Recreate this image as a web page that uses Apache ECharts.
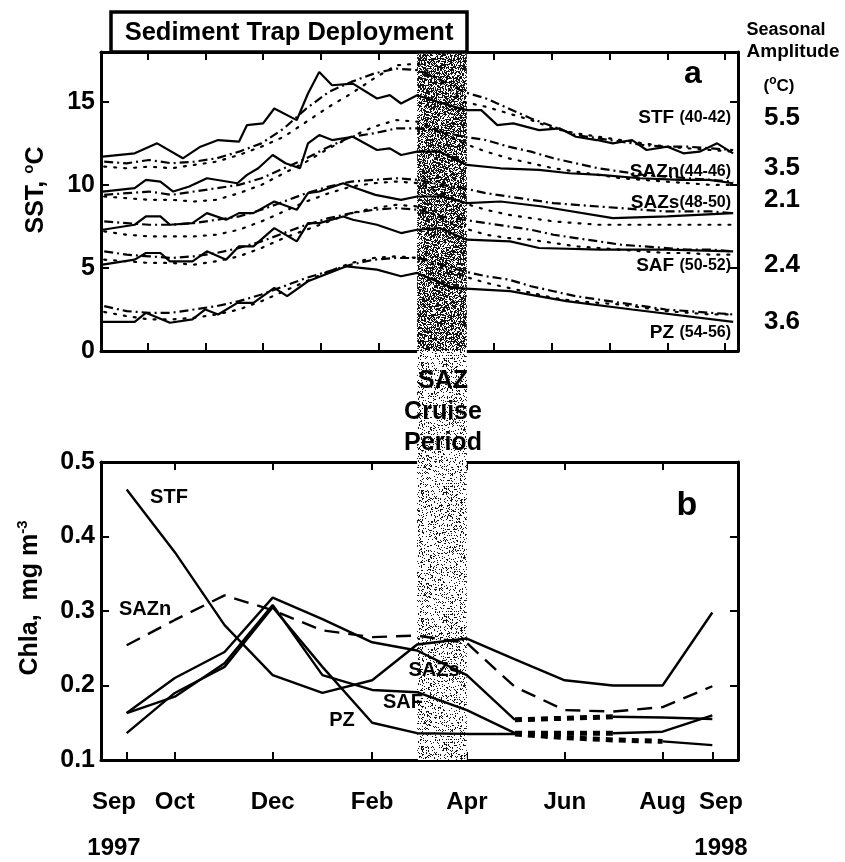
<!DOCTYPE html>
<html><head><meta charset="utf-8">
<script src="https://cdn.jsdelivr.net/npm/echarts@6/dist/echarts.min.js"></script>
<style>html,body{margin:0;padding:0;background:#fff}#c{width:845px;height:862px}</style>
</head><body><div id="c"></div>
<script>
// ---------- Panel a: SST (x = days since 1 Sep 1997) ----------
// solid lines (1997/98 weekly SST), read at their vertices
const stfSolidDays  = [-15,5,19,35,46,57,70,75,85,92,106,113,120,128,141,156,164,171,181,197,212,221,231,241,257,270,280,293,303,315,324,337,347,357,368,378];
const stfSolid      = [11.7,11.9,12.5,11.6,12.3,12.7,12.6,13.6,13.7,14.6,13.9,15.5,16.8,16.0,16.1,15.2,15.4,14.9,15.4,14.9,14.5,14.5,13.6,13.7,13.3,13.4,12.9,12.7,12.5,12.7,12.1,12.3,11.9,12.0,12.5,11.9];
const saznSolidDays = [-15,5,12,21,29,39,50,69,75,82,91,99,108,113,120,128,141,156,164,171,181,195,212,233,257,276,295,320,345,363,378];
const saznSolid     = [9.6,9.8,10.3,10.2,9.6,9.9,10.4,10.1,10.6,11.0,11.8,11.3,11.0,12.5,13.0,12.7,12.9,12.1,12.2,11.8,12.0,12.0,11.2,11.0,10.9,10.7,10.6,10.4,10.3,10.3,10.1];
const sazsSolidDays = [-15,5,12,21,27,41,50,62,70,79,92,106,113,120,135,140,155,171,181,197,212,233,259,303,337,378];
const sazsSolid     = [7.3,7.6,8.1,8.1,7.6,7.7,8.3,7.9,8.3,8.3,9.0,8.5,9.5,9.6,10.1,9.9,9.4,9.1,9.3,9.3,8.9,9.0,8.7,8.0,8.1,8.3];
const safSolidDays  = [-15,5,12,21,27,41,50,62,70,79,92,106,113,120,135,141,156,171,181,195,212,239,257,295,337,378];
const safSolid      = [5.2,5.5,5.9,5.9,5.4,5.4,6.0,5.5,6.3,6.3,7.4,6.6,7.7,7.7,8.1,7.9,7.6,7.1,7.3,7.4,6.7,6.6,6.2,6.1,6.1,6.0];
const pzSolidDays   = [-15,5,12,27,41,49,57,69,79,92,100,113,137,156,171,181,203,239,274,315,378];
const pzSolid       = [1.75,1.75,2.3,1.7,1.9,2.5,2.2,2.9,2.9,3.8,3.3,4.2,5.1,4.9,4.5,4.7,3.8,3.6,3.0,2.5,1.75];
// dash-dot and dotted lines, read every 14 days
const sstDays  = [-14,0,14,28,42,56,70,84,98,112,126,140,154,168,182,196,210,224,238,252,266,280,294,308,322,336,350,364,378];
const stfDash  = [11.4,11.3,11.5,11.3,11.4,11.6,12.0,12.5,13.4,14.6,15.6,16.2,16.7,17.0,16.9,16.3,15.6,15.2,14.6,14.0,13.5,13.0,12.8,12.6,12.4,12.3,12.3,12.2,12.1];
const stfDot   = [11.1,11.0,11.1,11.0,11.2,11.4,11.8,12.3,12.9,13.8,14.7,15.5,16.4,17.2,17.3,16.2,15.0,14.7,14.3,13.9,13.4,13.1,12.9,12.7,12.5,12.3,12.2,12.1,12.0];
const saznDash = [9.4,9.5,9.6,9.4,9.6,9.8,10.0,10.4,11.0,11.6,12.3,12.9,13.1,13.4,13.4,13.2,12.9,12.7,12.3,12.0,11.6,11.3,11.0,10.8,10.6,10.5,10.4,10.3,10.2];
const saznDot  = [9.3,9.2,9.1,9.1,9.0,9.1,9.5,10.0,10.7,11.4,12.2,12.9,13.5,13.9,13.8,13.2,12.5,12.0,11.6,11.3,11.0,10.8,10.6,10.4,10.3,10.2,10.1,10.0,10.0];
const sazsDash = [7.8,7.7,7.6,7.6,7.7,7.9,8.1,8.5,9.0,9.5,9.9,10.2,10.3,10.4,10.3,10.0,9.8,9.5,9.3,9.1,8.9,8.8,8.7,8.6,8.5,8.4,8.4,8.4,8.3];
const sazsDot  = [7.2,7.0,6.9,6.9,6.9,7.0,7.3,7.8,8.4,9.0,9.5,9.9,10.1,10.2,10.1,9.5,8.9,8.5,8.2,8.0,7.8,7.7,7.6,7.6,7.6,7.6,7.6,7.6,7.6];
const safDash  = [6.0,5.8,5.7,5.6,5.7,5.9,6.2,6.6,7.1,7.6,8.0,8.3,8.5,8.6,8.5,8.1,7.9,7.7,7.5,7.3,7.0,6.8,6.6,6.4,6.3,6.2,6.1,6.1,6.0];
const safDot   = [5.5,5.4,5.3,5.3,5.2,5.4,5.7,6.2,6.8,7.3,7.8,8.3,8.6,8.8,8.7,8.0,7.4,7.0,6.8,6.7,6.5,6.3,6.2,6.1,6.0,5.9,5.9,5.8,5.8];
const pzDash   = [2.7,2.4,2.3,2.3,2.5,2.7,3.0,3.4,3.9,4.4,4.8,5.2,5.5,5.6,5.6,5.2,4.8,4.5,4.3,3.9,3.6,3.3,3.1,2.9,2.7,2.5,2.4,2.3,2.2];
const pzDot    = [2.35,2.1,1.9,1.9,2.0,2.2,2.5,3.0,3.6,4.2,4.8,5.3,5.6,5.7,5.6,5.0,4.5,4.1,3.8,3.5,3.2,3.0,2.9,2.8,2.6,2.4,2.3,2.2,2.2];
const sstTicks  = [13,49,85,121,157,193,229,265,301,337,373];
const sstYTicks = [0,5,10,15];
const regionNames = ['STF','SAZn','SAZs','SAF','PZ'];
const regionLats  = ['(40-42)','(44-46)','(48-50)','(50-52)','(54-56)'];
const regionSep   = [' ','','',' ',' '];
const amplitudes  = ['5.5','3.5','2.1','2.4','3.6'];

// ---------- Panel b: Chla (monthly, x = days since 1 Sep 1997) ----------
const chlDays = [0,30,61,91,122,153,181,212,242,273,303,334,365];
const chlSTF  = [0.463,0.379,0.281,0.214,0.190,0.207,0.255,0.263,0.235,0.207,0.200,0.200,0.298];
const chlSAZn = [0.254,0.288,0.321,0.301,0.274,0.265,0.267,0.257,0.198,0.167,0.165,0.171,0.199];
const chlSAZs = [0.163,0.210,0.245,0.318,0.289,0.258,0.247,0.214,0.154,0.156,0.158,0.157,0.155];
const chlSAF  = [0.163,0.185,0.230,0.308,0.214,0.194,0.191,0.167,0.136,0.136,0.136,0.138,0.160];
const chlPZ   = [0.136,0.190,0.225,0.305,0.225,0.150,0.136,0.135,0.135,0.130,0.127,0.125,0.120];
// index ranges (first,last) drawn as heavy dotted (gap-filled) segments
const gapSAZs = [8,10];
const gapSAF  = [8,10];
const gapPZ   = [8,11];
const monthTicks  = [0,30,91,153,212,273,334,365];
const monthLabels = ['Sep','Oct','Dec','Feb','Apr','Jun','Aug','Sep'];
const yearLabels  = ['1997','1998'];
const chlYTicks = [0.1,0.2,0.3,0.4,0.5];
const cruisePeriod = [181,212];

const FONT = '"Liberation Sans", Arial, Helvetica, sans-serif';

function stipple(density, seed){
  const n=128, c=document.createElement('canvas'); c.width=c.height=n;
  const ctx=c.getContext('2d'); const img=ctx.createImageData(n,n);
  for(let y=0;y<n;y++)for(let x=0;x<n;x++){
    let h=Math.imul(x+seed*131,374761393)^Math.imul(y+seed*17,668265263);
    h=Math.imul(h^(h>>>13),1274126177); h^=h>>>16;
    const r=(h>>>0)/4294967296; const k=(y*n+x)*4;
    const v=r<density?20:255; img.data[k]=img.data[k+1]=img.data[k+2]=v; img.data[k+3]=255;
  }
  ctx.putImageData(img,0,0); return c;
}
const darkPat  = {image: stipple(0.58,1), repeat:'repeat'};
const lightPat = {image: stipple(0.19,2), repeat:'repeat'};

function pairs(xs, ys){ return xs.map((x,i)=>[x, ys[i]]); }
function solidPart(xs, ys, gap){ return xs.map((x,i)=>[x, (gap && i>gap[0] && i<gap[1]) ? null : ys[i]]); }
function gapPart(xs, ys, gap){ return xs.map((x,i)=>[x, (i>=gap[0] && i<=gap[1]) ? ys[i] : null]); }

const dashDot = [9,4,2,4];
const dotted  = [2,8];
const series = [];
function sstLine(xs, data, type){
  series.push({type:'line', xAxisIndex:0, yAxisIndex:0, data:pairs(xs,data), symbol:'none', z:3, silent:true,
    lineStyle:{color:'#000', width:2.2, type: type==='solid'?'solid':(type==='dash'?dashDot:dotted), cap: type==='dot'?'round':'butt'}});
}
[[stfSolidDays,stfSolid,stfDash,stfDot],[saznSolidDays,saznSolid,saznDash,saznDot],[sazsSolidDays,sazsSolid,sazsDash,sazsDot],
 [safSolidDays,safSolid,safDash,safDot],[pzSolidDays,pzSolid,pzDash,pzDot]].forEach(g=>{
  sstLine(g[0],g[1],'solid'); sstLine(sstDays,g[2],'dash'); sstLine(sstDays,g[3],'dot');
});
function chlLine(ys, gap, dashed){
  series.push({type:'line', xAxisIndex:2, yAxisIndex:2, data:solidPart(chlDays,ys,gap), symbol:'none', z:3, silent:true, connectNulls:false,
    lineStyle:{color:'#000', width:2.4, type: dashed?[15,9]:'solid'}});
  if(gap) series.push({type:'line', xAxisIndex:2, yAxisIndex:2, data:gapPart(chlDays,ys,gap), symbol:'none', z:3, silent:true, connectNulls:false,
    lineStyle:{color:'#000', width:5, type:[7,6]}});
}
chlLine(chlSTF,null,false); chlLine(chlSAZn,null,true); chlLine(chlSAZs,gapSAZs,false); chlLine(chlSAF,gapSAF,false); chlLine(chlPZ,gapPZ,false);

function band(xi, yi, pat){
  series.push({type:'line', xAxisIndex:xi, yAxisIndex:yi, data:[], z:1, silent:true,
    markArea:{silent:true, label:{show:false}, itemStyle:{color:pat, borderWidth:0}, data:[[{xAxis:cruisePeriod[0]},{xAxis:cruisePeriod[1]}]]}});
}
band(0,0,darkPat); band(4,4,lightPat); band(2,2,lightPat);

const axLine = {show:true, onZero:false, lineStyle:{color:'#000', width:3}};
function tick(vals){ return {show:true, inside:true, length:8, customValues:vals, lineStyle:{color:'#000', width:2}}; }
const lab = {fontFamily:FONT, fontWeight:'bold', color:'#000'};
const innerMonths = monthTicks.slice(1,-1);

const xAxis = [
  {gridIndex:0, type:'value', min:-16, max:381, axisLine:axLine, axisTick:tick(sstTicks), axisLabel:{show:false}, splitLine:{show:false}},
  {gridIndex:0, type:'value', position:'top', min:-16, max:381, axisLine:axLine, axisTick:tick(sstTicks), axisLabel:{show:false}, splitLine:{show:false}},
  {gridIndex:1, type:'value', min:-16, max:381, axisLine:axLine, axisTick:tick(monthTicks), splitLine:{show:false},
    axisLabel:{show:true, customValues:innerMonths, margin:30, ...lab, fontSize:24,
      formatter:function(v){ let i=0, d=1e9; monthTicks.forEach((t,k)=>{ if(Math.abs(t-v)<d){d=Math.abs(t-v); i=k;} }); return monthLabels[i]; }}},
  {gridIndex:1, type:'value', position:'top', min:-16, max:381, axisLine:axLine, axisTick:tick(innerMonths), axisLabel:{show:false}, splitLine:{show:false}},
  {gridIndex:2, type:'value', min:-16, max:381, show:false}
];
const yAxis = [
  {gridIndex:0, type:'value', min:0, max:18, axisLine:axLine, axisTick:tick(sstYTicks), splitLine:{show:false},
    axisLabel:{customValues:sstYTicks, margin:6, ...lab, fontSize:25}},
  {gridIndex:0, type:'value', position:'right', min:0, max:18, axisLine:axLine, axisTick:tick([5,10,15]), axisLabel:{show:false}, splitLine:{show:false}},
  {gridIndex:1, type:'value', min:0.1, max:0.5, axisLine:axLine, axisTick:tick(chlYTicks), splitLine:{show:false},
    axisLabel:{customValues:chlYTicks, margin:6, showMinLabel:true, showMaxLabel:true, ...lab, fontSize:25, formatter:v=>v.toFixed(1)}},
  {gridIndex:1, type:'value', position:'right', min:0.1, max:0.5, axisLine:axLine, axisTick:tick([0.2,0.3,0.4]), axisLabel:{show:false}, splitLine:{show:false}},
  {gridIndex:2, type:'value', min:0, max:1, show:false}
];

function txt(text, x, y, size, extra){
  return {type:'text', x:x, y:y, z:100, silent:true,
    style:Object.assign({text:text, fill:'#000', fontFamily:FONT, fontWeight:'bold', fontSize:size, align:'center', verticalAlign:'middle'}, extra||{})};
}
const supRich = (fs, lh)=>({s:{fontFamily:FONT, fontWeight:'bold', fontSize:fs, verticalAlign:'top', lineHeight:lh}});
const graphic = [
  {type:'rect', shape:{x:111, y:12, width:356, height:40}, style:{fill:'#fff', stroke:'#000', lineWidth:3.5}, z:90, silent:true},
  txt('Sediment Trap Deployment', 289, 33, 25.5),
  txt('Seasonal', 786, 30, 18),
  txt('Amplitude', 793, 52, 19),
  txt('({s|o}C)', 779, 86, 17, {rich:supRich(12,22)}),
  txt('a', 693, 74, 32),
  txt('b', 687, 506, 34),
  txt('SAZ', 443, 381, 25),
  txt('Cruise', 443, 412, 25),
  txt('Period', 443, 443, 25),
  txt('STF', 169, 497, 20),
  txt('SAZn', 145, 609, 20),
  txt('SAZs', 434, 670, 20),
  txt('SAF', 403, 702, 20),
  txt('PZ', 342, 720, 20),
  // end-of-axis month labels with their years
  txt(monthLabels[0], 114, 802, 24),
  txt(yearLabels[0], 114, 848, 24),
  txt(monthLabels[monthLabels.length-1], 721, 802, 24),
  txt(yearLabels[1], 721, 848, 24),
  Object.assign(txt('SST, {s|o}C', 36, 190, 25, {rich:supRich(15,30)}), {rotation:Math.PI/2}),
  Object.assign(txt('Chla,  mg m{s|-3}', 30, 598, 25, {rich:supRich(15,30)}), {rotation:Math.PI/2})
];
const labY = [118,172,203,266,333];
const ampY = [118,168,200,265,322];
regionNames.forEach((n,i)=>{
  graphic.push(txt('{n|'+n+'}'+regionSep[i]+'{r|'+regionLats[i]+'}', 731, labY[i], 19,
    {align:'right', rich:{n:{fontFamily:FONT,fontWeight:'bold',fontSize:19}, r:{fontFamily:FONT,fontWeight:'bold',fontSize:16}}}));
  graphic.push(txt(amplitudes[i], 782, ampY[i], 26));
});

const chart = echarts.init(document.getElementById('c'), null, {renderer:'canvas'});
chart.setOption({
  animation:false, backgroundColor:'#fff',
  grid:[{left:101, top:52, width:637, height:299}, {left:101, top:462, width:637, height:298}, {left:101, top:351, width:637, height:111}],
  xAxis: xAxis, yAxis: yAxis, series: series, graphic: graphic
});
</script></body></html>
